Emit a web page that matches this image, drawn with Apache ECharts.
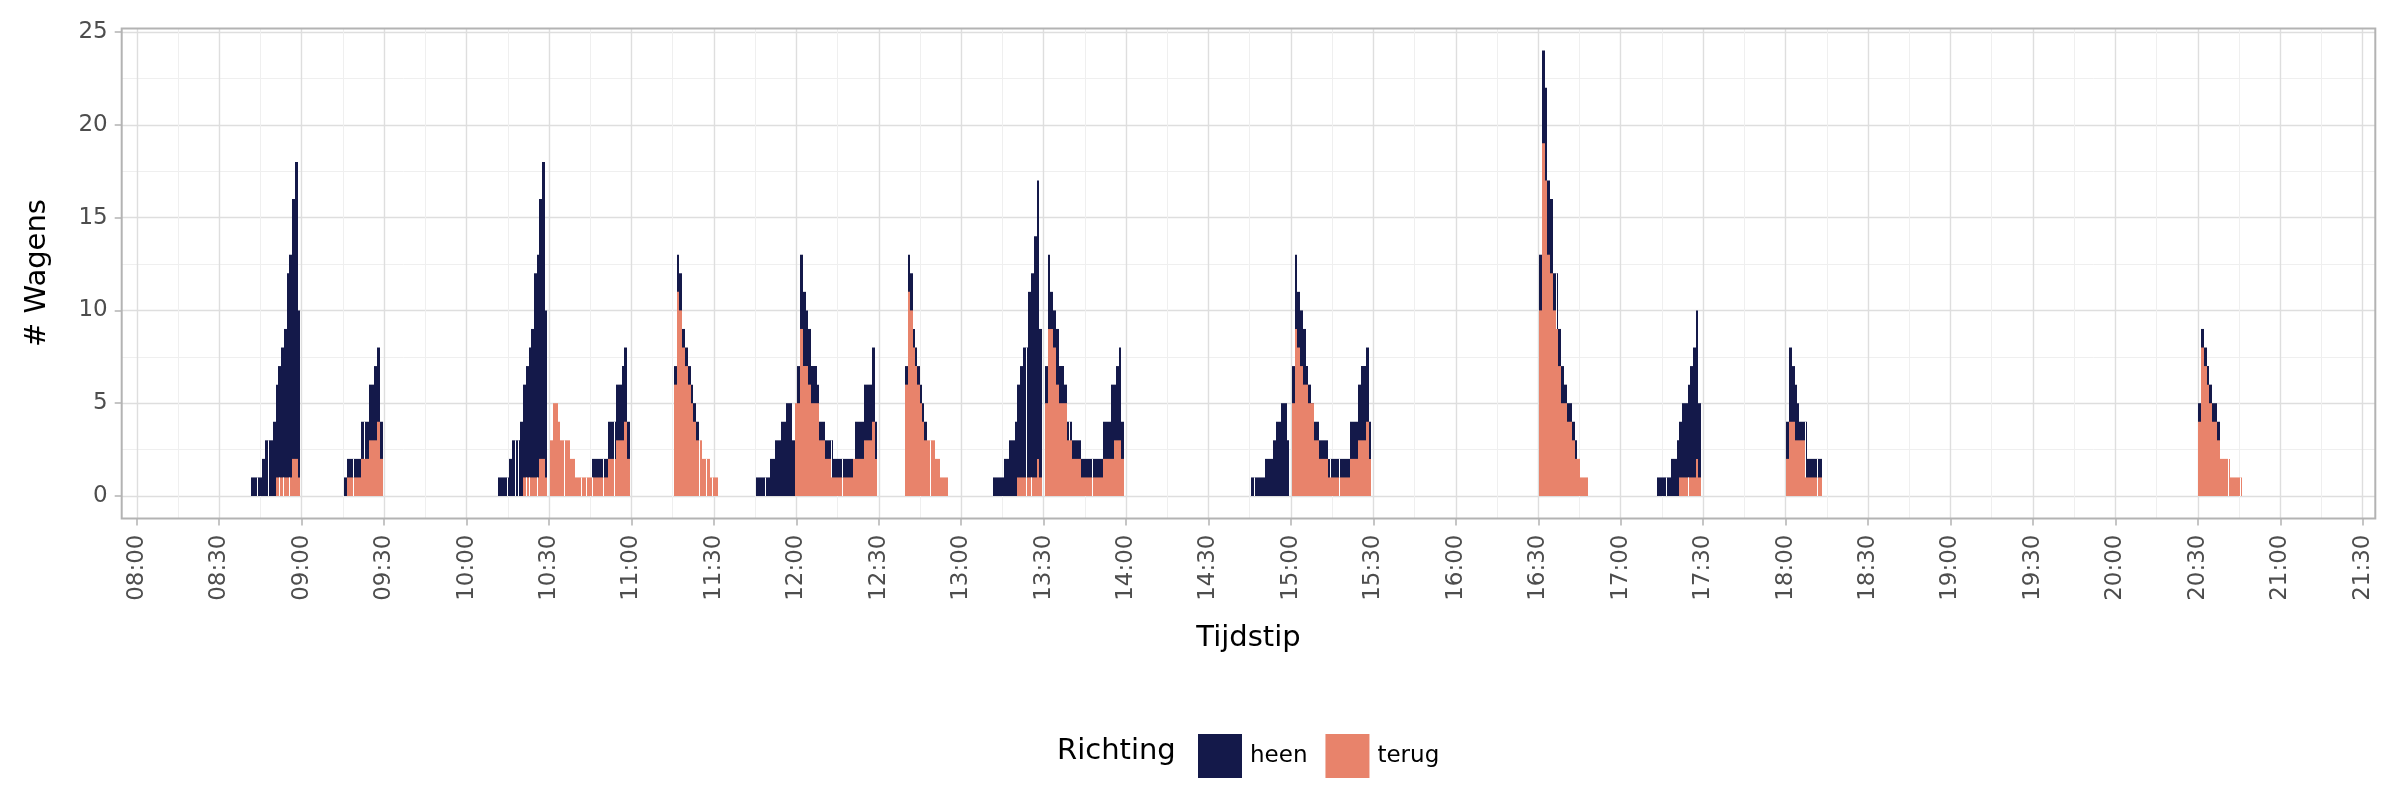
<!DOCTYPE html>
<html>
<head>
<meta charset="utf-8">
<script src="https://cdn.jsdelivr.net/npm/echarts@6/dist/echarts.min.js"></script>
<style>
  html, body { margin: 0; padding: 0; background: #ffffff; }
  #chart { width: 2400px; height: 800px; }
</style>
</head>
<body>
<div id="chart"></div>
<script>
// Tijd in minuten na 08:00. Elk balkje loopt van tijd[i] tot tijd[i+1]; waarde 0 sluit een groep af.
// heen: hoogte van de gestapelde balk (heen + terug)
const heenTijd = [
  41.6,43.7,45.6,46.8,47.7,49.7,50.8,51.5,52.5,53.6,54.8,55.5,56.5,57.6,58.6,59.4,
  75.4,76.5,78.6,81.6,82.6,84.5,86.4,87.4,88.5,89.5,
  131.3,134.6,135.4,136.7,137.6,138.7,139.5,140.5,141.6,142.7,143.5,144.5,145.6,146.4,147.5,148.4,149.3,
  165.7,169.7,171.6,173.5,174.4,176.7,177.4,178.4,179.5,
  195.5,196.5,197.3,198.4,199.6,200.6,201.7,202.5,203.5,204.6,
  225.2,228.6,230.4,232.4,234.4,236.4,238.4,240.4,241.3,242.4,243.5,244.4,245.5,247.5,248.4,250.6,252.5,253.2,256.5,260.5,261.4,264.5,267.5,268.5,269.4,
  279.6,280.5,281.3,282.4,283.2,284.0,285.0,285.7,286.6,287.7,
  311.6,315.6,317.4,319.6,320.3,321.4,322.5,323.5,324.4,325.4,326.5,327.6,328.3,329.4,
  330.5,331.6,332.3,333.3,334.5,335.5,337.4,338.5,339.3,340.3,343.6,347.6,351.6,354.5,356.3,357.3,358.3,359.2,
  405.5,406.4,410.6,413.5,414.6,416.4,418.6,419.3,
  420.3,421.4,422.3,423.3,424.4,425.4,426.3,427.3,428.4,430.3,433.5,434.2,437.4,441.4,444.4,445.4,447.3,448.4,449.1,
  510.3,511.2,512.3,513.1,514.3,515.4,516.5,517.2,518.3,519.4,520.5,522.3,523.4,524.1,
  553.2,556.5,558.3,560.5,561.2,562.3,564.5,565.2,566.3,567.4,568.2,569.2,
  600.1,601.2,602.2,603.4,604.0,605.0,607.1,607.9,611.3,613.1,
  750.0,751.2,752.3,753.2,754.1,755.2,757.1,758.0
];
const heenAantal = [
  1,1,2,3,3,4,6,7,8,9,12,13,16,18,10,0,
  1,2,2,4,4,6,7,8,4,0,
  1,1,2,3,3,3,4,6,7,8,9,12,13,16,18,10,0,
  2,2,4,4,6,7,8,4,0,
  7,13,12,9,8,7,6,5,4,0,
  1,1,2,3,4,5,3,7,13,11,10,9,7,6,4,3,3,2,2,2,4,6,8,4,0,
  7,13,12,9,8,7,6,5,4,0,
  1,2,3,4,6,7,8,8,11,12,14,17,9,0,
  7,13,11,10,9,7,6,4,4,3,2,2,4,6,7,8,4,0,
  1,1,2,3,4,5,3,0,
  7,13,11,10,9,7,6,5,4,3,2,2,2,4,6,7,8,4,0,
  13,24,22,17,16,12,12,9,7,6,5,4,3,0,
  1,1,2,3,4,5,6,7,8,10,5,0,
  4,8,7,6,5,4,4,2,2,0,
  5,9,8,7,6,5,4,0
];
const terugTijd = [
  50.8,51.9,53.1,55.5,56.5,58.6,59.4,
  76.5,78.6,81.6,84.5,87.4,88.5,89.5,
  140.5,141.6,142.7,145.6,146.4,148.4,149.3,
  150.4,151.5,153.4,154.1,155.6,157.6,159.6,161.5,163.5,165.7,169.7,171.6,173.5,174.4,177.4,178.4,179.5,
  195.5,196.5,197.3,198.4,199.6,200.6,201.7,202.5,203.5,204.6,205.7,207.1,208.6,209.4,211.5,
  239.5,241.3,242.4,244.4,245.5,248.4,250.6,252.5,256.5,260.5,264.5,267.5,268.5,269.4,
  279.6,280.5,281.3,282.4,283.2,284.0,285.0,285.7,286.6,288.5,290.4,292.3,295.2,
  320.3,323.5,325.4,327.6,328.3,329.4,330.5,331.6,333.3,334.5,335.5,338.5,340.3,343.6,347.6,351.6,355.5,358.3,359.2,
  420.3,421.4,422.3,423.3,424.4,426.3,428.4,430.3,433.5,437.4,441.4,444.4,447.3,448.4,449.1,
  510.3,511.2,512.3,513.1,514.3,515.4,516.5,517.2,518.3,520.5,522.3,523.4,525.2,528.1,
  561.2,564.5,567.4,568.2,569.2,
  600.1,601.2,603.4,607.1,611.3,613.1,
  750.0,751.2,752.3,753.2,754.1,755.2,757.1,758.0,761.1,761.8,765.4,766.2
];
const terugAantal = [
  1,1,1,1,2,1,0,
  1,1,2,3,4,2,0,
  1,1,1,1,2,1,0,
  3,5,4,3,3,2,1,1,1,1,1,2,2,3,4,2,0,
  6,11,10,8,7,6,5,4,3,3,2,2,1,1,0,
  5,9,7,6,5,3,2,1,1,2,3,4,2,0,
  6,11,10,8,7,6,5,4,3,3,2,1,0,
  1,1,1,2,1,0,5,9,8,6,5,3,2,1,1,2,3,2,0,
  5,9,8,7,6,5,3,2,1,1,2,3,4,2,0,
  10,19,17,13,12,10,9,7,5,4,3,2,1,0,
  1,1,2,1,0,
  2,4,3,1,1,0,
  4,8,7,6,5,4,3,2,2,1,1,0
];
const tijdLabels = ['08:00','08:30','09:00','09:30','10:00','10:30','11:00','11:30','12:00','12:30','13:00','13:30',
  '14:00','14:30','15:00','15:30','16:00','16:30','17:00','17:30','18:00','18:30','19:00','19:30','20:00','20:30','21:00','21:30'];
const yLabels = ['0','5','10','15','20','25'];
const richtingen = ['heen', 'terug'];

const KLEUR = { heen: '#14194A', terug: '#E8836B' };
const FONT = 'DejaVu Sans';

// segment: [start, eind, aantal, scheidingslijn links (alleen tussen twee gelijke, aansluitende balken)]
function segmenten(tijd, aantal) {
  const out = [];
  for (let i = 0; i < tijd.length - 1; i++) {
    if (aantal[i] > 0) {
      const scheiding = (i > 0 && aantal[i - 1] === aantal[i]) ? 1 : 0;
      out.push([tijd[i], tijd[i + 1], aantal[i], scheiding]);
    }
  }
  return out;
}

function maakRender(kleur) {
  return function (params, api) {
    const p0 = api.coord([api.value(0), api.value(2)]);
    const p1 = api.coord([api.value(1), 0]);
    const xa = Math.round(p0[0]);
    const xb = Math.round(p1[0]);
    const yt = p0[1];
    const yb = p1[1];
    const children = [
      { type: 'rect', shape: { x: xa, y: yt, width: xb - xa, height: yb - yt },
        style: { fill: kleur } }
    ];
    if (api.value(3) === 1) {
      children.push({ type: 'line', shape: { x1: xa + 0.5, y1: yt, x2: xa + 0.5, y2: yb },
        style: { stroke: '#ffffff', lineWidth: 1 } });
    }
    return { type: 'group', children: children };
  };
}

const chart = echarts.init(document.getElementById('chart'), null, { renderer: 'canvas' });

const gridLine = { color: '#DEDEDE', width: 1.4 };
const minorLine = { color: '#EFEFEF', width: 1 };
const tickStyle = { color: '#B3B3B3', width: 1.5 };
const labelStyle = { fontSize: 23, color: '#4D4D4D', fontFamily: FONT };

chart.setOption({
  animation: false,
  backgroundColor: '#ffffff',
  grid: [
    { left: 121.7, right: 24.7, top: 32, bottom: 304 },
    { left: 136.8, right: 37.3, top: 28.5, bottom: 281.5 },
    { left: 136.8, right: 37.3, top: 32, bottom: 304 }
  ],
  xAxis: [
    { gridIndex: 0, type: 'value', min: 0, max: 1, show: false },
    {
      gridIndex: 1, type: 'value', min: 0, max: 810, interval: 30,
      axisLine: { show: false, onZero: false },
      axisTick: { show: true, length: 7, lineStyle: tickStyle },
      axisLabel: Object.assign({ rotate: 90, margin: 16,
        formatter: v => tijdLabels[Math.round(v / 30)] || '' }, labelStyle),
      splitLine: { show: true, lineStyle: gridLine },
      minorTick: { show: true, splitNumber: 2, length: 0, lineStyle: { opacity: 0 } },
      minorSplitLine: { show: true, lineStyle: minorLine }
    },
    { gridIndex: 2, type: 'value', min: 0, max: 810, show: false }
  ],
  yAxis: [
    {
      gridIndex: 0, type: 'value', min: 0, max: 25, interval: 5,
      axisLine: { show: false, onZero: false },
      axisTick: { show: true, length: 7, lineStyle: tickStyle },
      axisLabel: Object.assign({ margin: 14,
        formatter: v => yLabels[Math.round(v / 5)] || '' }, labelStyle),
      splitLine: { show: true, lineStyle: gridLine },
      minorTick: { show: true, splitNumber: 2, length: 0, lineStyle: { opacity: 0 } },
      minorSplitLine: { show: true, lineStyle: minorLine }
    },
    { gridIndex: 1, type: 'value', min: 0, max: 1, show: false },
    { gridIndex: 2, type: 'value', min: 0, max: 25, show: false }
  ],
  legend: {
    data: richtingen,
    left: 1193, top: 729,
    orient: 'horizontal',
    icon: 'rect',
    itemWidth: 44, itemHeight: 44, itemGap: 18,
    itemStyle: { borderWidth: 0 },
    textStyle: { fontSize: 23, color: '#000000', fontFamily: FONT, padding: [0, 0, 0, 3] },
    selectedMode: false
  },
  series: [
    {
      name: 'heen', type: 'custom', xAxisIndex: 2, yAxisIndex: 2, z: 2,
      itemStyle: { color: KLEUR.heen },
      renderItem: maakRender(KLEUR.heen),
      encode: { x: [0, 1], y: 2 },
      data: segmenten(heenTijd, heenAantal)
    },
    {
      name: 'terug', type: 'custom', xAxisIndex: 2, yAxisIndex: 2, z: 3,
      itemStyle: { color: KLEUR.terug },
      renderItem: maakRender(KLEUR.terug),
      encode: { x: [0, 1], y: 2 },
      data: segmenten(terugTijd, terugAantal)
    }
  ],
  graphic: [
    { type: 'rect', silent: true, z: 100,
      shape: { x: 121.7, y: 28.5, width: 2253.6, height: 490 },
      style: { fill: 'none', stroke: '#B3B3B3', lineWidth: 2 } },
    { type: 'text', silent: true, x: 1248.5, y: 638,
      style: { text: 'Tijdstip', font: '29px "DejaVu Sans"', fill: '#000000', align: 'center', verticalAlign: 'middle' } },
    { type: 'text', silent: true, x: 37.5, y: 273, rotation: Math.PI / 2,
      style: { text: '# Wagens', font: '29px "DejaVu Sans"', fill: '#000000', align: 'center', verticalAlign: 'middle' } },
    { type: 'text', silent: true, x: 1057, y: 751,
      style: { text: 'Richting', font: '29px "DejaVu Sans"', fill: '#000000', align: 'left', verticalAlign: 'middle' } }
  ]
});
</script>
</body>
</html>
